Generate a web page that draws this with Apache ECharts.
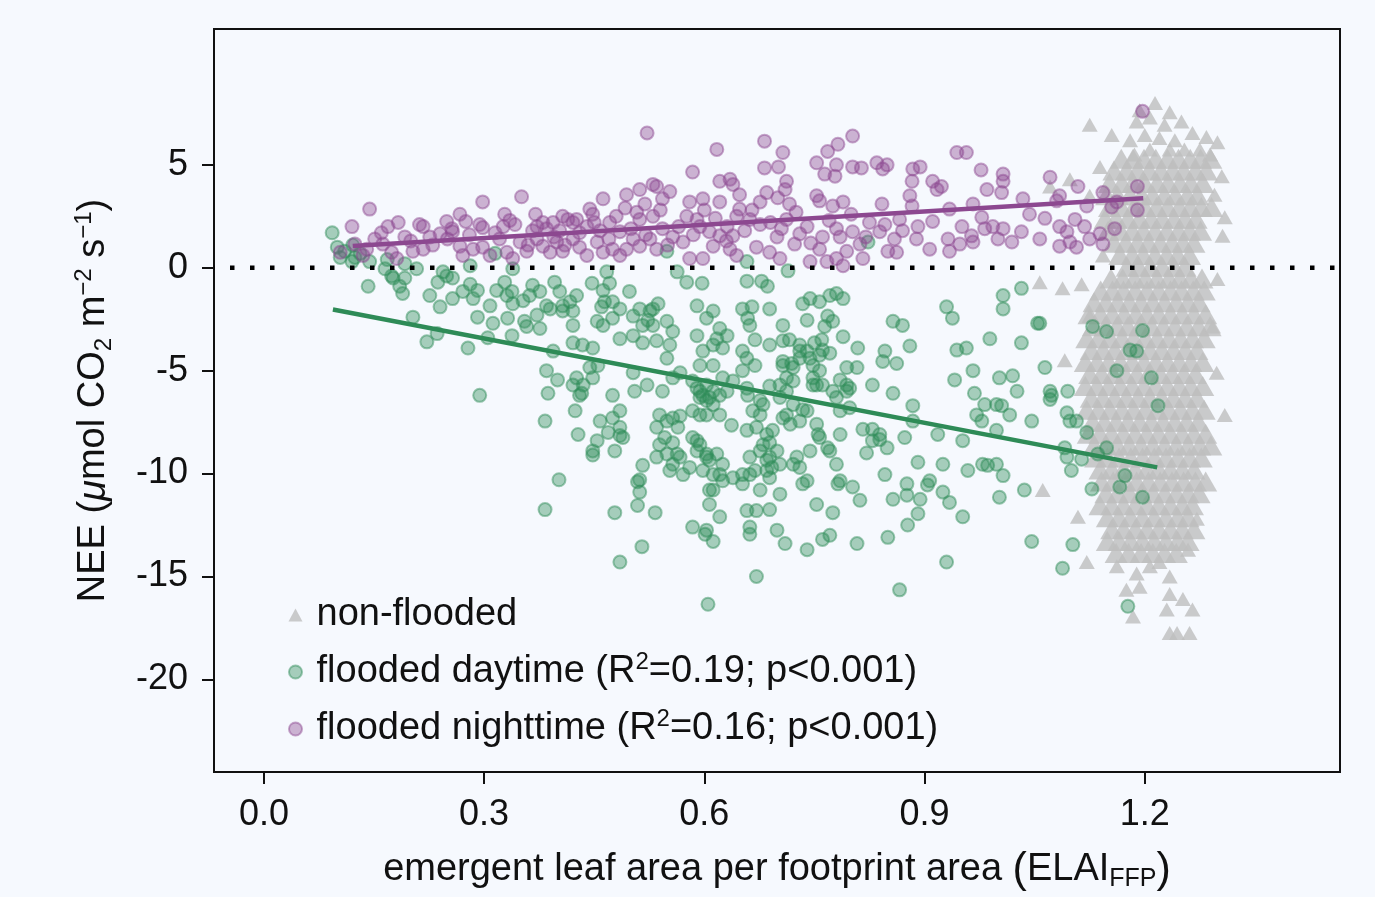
<!DOCTYPE html>
<html>
<head>
<meta charset="utf-8">
<title>NEE vs ELAI</title>
<script src="https://cdn.jsdelivr.net/npm/echarts@6.0.0/dist/echarts.min.js"></script>
<style>
  html, body { margin: 0; padding: 0; background: #f6f9fe; overflow: hidden; }
  #chart { width: 1375px; height: 897px; }
</style>
</head>
<body>
<div id="chart"></div>
<script>
// axis ticks
const xTicks = [0, 0.3, 0.6, 0.9, 1.2];
const yTicks = [-20, -15, -10, -5, 0, 5];

// flooded daytime [ELAI, NEE]
const floodedDay = [
  [0.093,1.7],[0.10,1.0],[0.104,0.5],[0.11,0.8],[0.124,0.5],[0.12,0.3],[0.131,0.7],[0.165,-0.05],[0.174,-0.4],[0.192,-0.5],[0.144,0.3],
  [0.121,1.1],[0.168,0.4],[0.192,0.2],[0.208,-0.05],[0.244,-0.2],[0.281,0.1],[0.315,0.7],[0.339,-0.05],[0.467,-0.2],[0.549,0.8],[0.563,-0.2],
  [0.658,0.3],[0.714,-0.15],[0.823,1.25],
  [0.142,-0.9],[0.176,-0.5],[0.185,-0.9],[0.189,-1.25],[0.203,-2.4],[0.222,-3.6],[0.236,-3.2],
  [0.226,-1.35],[0.240,-1.9],[0.237,-0.7],[0.249,-0.4],[0.257,-0.5],[0.257,-1.5],[0.271,-1.15],[0.281,-0.8],[0.285,-1.5],[0.291,-1.1],
  [0.291,-2.4],[0.312,-2.7],[0.308,-1.85],[0.278,-3.9],[0.294,-6.2],[0.305,-3.4],
  [0.317,-1.1],[0.328,-0.7],[0.338,-1.15],[0.339,-1.75],[0.332,-2.45],[0.338,-3.3],[0.353,-1.6],[0.355,-2.6],[0.358,-2.85],[0.376,-2.95],
  [0.366,-0.85],[0.376,-1.15],[0.390,-2.0],[0.396,-0.7],[0.403,-1.15],[0.407,-1.85],[0.417,-1.65],[0.421,-2.1],[0.426,-1.35],[0.421,-2.8],
  [0.394,-4.05],[0.385,-5.0],[0.400,-5.45],[0.387,-6.1],[0.383,-7.45],
  [0.421,-3.65],[0.434,-3.75],[0.448,-3.9],[0.444,-4.85],[0.426,-5.35],[0.433,-6.1],[0.424,-6.95],[0.428,-8.1],[0.421,-5.7],
  [0.447,-0.75],[0.462,-1.1],[0.471,-0.75],[0.464,-1.65],[0.485,-2.0],[0.498,-1.15],[0.475,-2.45],[0.462,-2.8],[0.454,-2.6],[0.485,-3.45],
  [0.503,-3.3],[0.512,-2.0],[0.516,-2.8],[0.530,-2.0],[0.537,-1.75],[0.523,-2.55],[0.535,-3.55],[0.549,-2.6],[0.557,-3.1],[0.553,-3.75],[0.549,-4.4],
  [0.448,-5.35],[0.455,-4.75],[0.475,-6.2],[0.485,-6.95],[0.475,-7.3],[0.458,-7.45],[0.454,-8.4],[0.448,-8.9],[0.478,-8.9],[0.489,-8.25],[0.485,-7.75],
  [0.503,-5.1],[0.505,-6.0],[0.522,-5.7],[0.543,-6.0],[0.557,-5.35],[0.567,-5.1],
  [0.539,-7.15],[0.535,-7.75],[0.549,-7.45],[0.557,-7.3],[0.564,-7.75],[0.539,-8.6],[0.549,-9.05],[0.557,-9.55],[0.567,-9.2],[0.571,-10.05],[0.553,-9.85],[0.535,-9.2],
  [0.516,-9.6],[0.509,-10.4],[0.512,-10.9],[0.509,-11.55],[0.533,-11.9],[0.478,-11.9],[0.402,-10.3],[0.383,-11.75],[0.515,-13.55],[0.485,-14.3],
  [0.584,-12.6],[0.601,-12.95],[0.612,-13.3],[0.605,-16.35],
  [0.584,-5.5],[0.594,-6.0],[0.603,-6.45],[0.584,-6.95],[0.594,-7.15],[0.590,-8.4],[0.590,-8.9],[0.603,-9.05],[0.598,-9.85],[0.612,-10.8],[0.607,-11.5],
  [0.590,-1.85],[0.603,-2.45],[0.590,-3.3],[0.612,-3.75],[0.594,-4.75],[0.612,-4.75],
  [0.597,-0.75],[0.612,-2.1],[0.621,-2.95],[0.631,-3.3],[0.617,-3.45],[0.625,-3.9],[0.598,-4.05],
  [0.658,-0.65],[0.678,-0.65],[0.686,-0.9],[0.652,-2.0],[0.665,-1.9],[0.659,-2.45],[0.662,-2.8],[0.689,-2.0],
  [0.669,-3.5],[0.652,-4.05],[0.658,-4.4],[0.669,-4.75],[0.689,-3.75],[0.707,-2.8],
  [0.734,-1.75],[0.744,-1.5],[0.757,-1.65],[0.771,-1.35],[0.780,-1.25],[0.789,-1.5],[0.740,-2.55],[0.768,-2.35],[0.775,-2.6],[0.764,-2.85],[0.789,-3.35],
  [0.707,-3.55],[0.716,-3.5],[0.730,-3.75],[0.740,-4.05],[0.750,-3.65],[0.760,-3.5],[0.771,-4.15],[0.730,-4.4],[0.744,-4.4],[0.757,-4.25],
  [0.707,-4.55],[0.721,-4.85],[0.712,-5.35],[0.748,-5.35],[0.761,-5.7],
  [0.603,-5.7],[0.625,-5.35],[0.639,-5.5],[0.594,-6.3],[0.607,-6.3],[0.621,-6.2],[0.631,-6.0],[0.603,-7.15],[0.621,-7.15],[0.637,-7.65],
  [0.652,-5.0],[0.658,-5.85],[0.659,-6.2],[0.689,-5.75],[0.680,-6.65],[0.666,-6.95],[0.676,-7.15],
  [0.721,-6.65],[0.734,-6.9],[0.730,-7.45],[0.703,-6.3],[0.712,-7.15],
  [0.753,-5.7],[0.775,-6.0],[0.780,-6.3],[0.794,-5.7],[0.794,-6.0],[0.785,-6.95],[0.798,-6.8],[0.808,-4.85],[0.794,-4.85],[0.829,-5.7],[0.857,-6.1],
  [0.594,-8.6],[0.603,-9.2],[0.617,-9.05],[0.625,-9.55],[0.621,-10.05],[0.625,-10.35],[0.607,-10.8],[0.603,-12.75],[0.621,-12.1],
  [0.658,-7.9],[0.671,-7.75],[0.685,-8.1],[0.693,-7.9],[0.680,-8.6],[0.676,-8.9],[0.689,-9.2],[0.699,-8.9],[0.685,-9.85],[0.689,-10.2],
  [0.662,-9.2],[0.662,-10.05],[0.652,-10.5],[0.676,-10.8],[0.703,-11.0],[0.658,-11.8],[0.671,-11.8],[0.689,-11.75],[0.662,-12.6],[0.662,-12.95],
  [0.726,-9.2],[0.730,-9.7],[0.740,-10.35],[0.734,-10.5],[0.744,-8.9],[0.753,-7.6],[0.757,-8.25],[0.771,-8.9],[0.780,-9.55],[0.753,-11.5],[0.775,-11.9],
  [0.699,-12.75],[0.710,-13.4],[0.740,-13.7],[0.761,-13.2],[0.771,-13.0],[0.808,-13.4],[0.671,-15.0],
  [0.785,-8.1],[0.816,-7.85],[0.821,-9.0],[0.829,-7.85],[0.839,-8.35],[0.849,-8.75],[0.829,-8.4],
  [0.782,-10.5],[0.802,-10.65],[0.812,-11.3],[0.846,-10.05],
  [0.880,-3.8],[0.862,-4.65],[0.846,-4.05],[0.843,-4.55],[0.857,-2.6],[0.870,-2.8],
  [0.884,-6.7],[0.884,-7.45],[0.873,-8.25],[0.891,-9.45],[0.918,-8.1],[0.952,-8.4],[0.925,-9.55],
  [0.857,-11.25],[0.876,-10.5],[0.876,-11.05],[0.894,-11.25],[0.904,-10.55],[0.925,-10.9],[0.934,-11.4],[0.952,-12.1],[0.891,-11.95],[0.877,-12.5],
  [0.850,-13.1],[0.866,-15.65],[0.930,-14.3],
  [0.930,-1.9],[0.938,-2.45],
  [0.941,-5.45],[0.944,-4.0],[0.957,-3.9],[0.966,-5.0],[0.968,-6.1],[0.989,-3.45],
  [0.971,-7.15],[0.978,-7.45],[0.982,-6.65],[0.998,-6.65],[1.005,-6.7],[1.016,-7.15],[0.998,-7.9],[0.979,-9.55],[0.986,-9.6],[0.998,-9.55],
  [1.007,-10.1],[0.959,-9.85],[1.002,-11.15],[1.036,-10.8],
  [1.002,-5.35],[1.020,-5.25],[1.026,-6.0],
  [1.007,-1.35],[1.007,-2.0],[1.032,-1.0],[1.054,-2.7],[1.032,-3.65],[1.064,-4.85],[1.046,-7.45],
  [1.071,-6.0],[1.071,-6.4],[1.095,-6.0],[1.094,-7.05],[1.098,-7.45],[1.107,-7.45],[1.121,-8.0],
  [1.091,-8.75],[1.094,-9.2],[1.100,-9.85],[1.128,-10.75],[1.148,-8.75],
  [1.046,-13.3],[1.102,-13.45],[1.088,-14.6],
  [1.129,-2.85],[1.148,-3.1],[1.162,-5.0],
  [1.197,-3.05],[1.180,-4.0],[1.189,-4.05],[1.209,-5.35],[1.218,-6.7],[1.073,-6.2],[1.114,-9.3],[1.136,-9.05],[1.173,-10.1],[1.166,-10.65],
  [1.197,-11.15],[1.177,-16.45],[1.057,-2.7],
  [0.331,-1.35],[0.362,-1.35],[0.372,-2.3],[0.385,-1.85],[0.407,-2.1],[0.460,-1.9],[0.475,-1.65],[0.503,-2.35],[0.526,-2.1],[0.530,-2.8],
  [0.516,-3.65],[0.576,-0.7],[0.435,-5.7],[0.430,-6.2],[0.469,-8.0],[0.485,-8.15],[0.448,-9.1],[0.567,-7.2],[0.546,-8.25],[0.557,-8.5],
  [0.563,-9.05],[0.512,-10.3],[0.584,-8.25],[0.607,-9.35],[0.580,-9.7],[0.612,-10.05],[0.612,-6.65],[0.598,-6.2],[0.612,-6.0],[0.590,-5.85],
  [0.676,-6.45],[0.689,-8.5],[0.685,-9.35],[0.703,-9.55],[0.707,-7.3],[0.717,-7.6],[0.740,-6.95],[0.755,-8.1],[0.768,-8.75],[0.839,-8.1],
  [0.639,-10.2],[0.652,-10.05],[0.669,-9.85],[0.692,-9.7],[0.721,-9.55],[0.785,-10.35],[0.907,-10.35],
  [0.730,-4.05],[0.761,-4.0],[0.719,-4.65],[0.748,-4.75],[0.757,-5.0],[0.707,-4.75],[0.703,-5.7],[0.721,-5.5],[0.712,-6.0],[0.748,-5.7],
  [0.785,-5.45],[0.798,-5.85],[0.809,-3.9]
];

// flooded nighttime [ELAI, NEE]
const floodedNight = [
  [0.120,2.0],[0.144,2.85],[0.169,2.0],[0.183,2.2],[0.212,2.1],[0.217,2.0],[0.249,2.25],[0.256,1.9],[0.275,2.25],[0.298,3.2],[0.298,1.95],
  [0.326,2.0],[0.351,3.45],[0.366,1.8],[0.380,2.2],[0.385,1.9],[0.407,2.5],[0.414,2.35],[0.426,2.35],[0.444,2.85],[0.448,2.6],[0.462,3.35],
  [0.494,3.55],[0.512,3.8],[0.530,4.05],[0.535,3.95],[0.553,3.7],[0.492,2.9],[0.508,2.7],[0.522,6.55],[0.584,4.65],[0.617,5.75],
  [0.621,4.2],[0.635,4.3],[0.639,4.05],[0.580,3.2],[0.598,3.35],[0.621,3.2],
  [0.104,0.75],[0.135,0.6],[0.162,1.15],[0.174,0.75],[0.181,0.45],[0.203,0.8],[0.217,0.9],[0.226,1.5],[0.240,1.65],[0.257,1.75],[0.267,1.05],
  [0.271,0.6],[0.285,0.9],[0.298,1.0],[0.308,0.6],[0.321,1.4],[0.331,0.75],[0.339,0.45],[0.349,1.25],[0.358,0.8],[0.372,1.4],[0.380,1.05],
  [0.390,0.75],[0.399,1.25],[0.407,0.8],[0.421,1.4],[0.430,1.0],[0.440,0.6],[0.454,1.25],[0.462,0.75],[0.475,0.9],[0.485,0.6],[0.494,0.9],
  [0.503,1.4],[0.512,1.05],[0.526,1.4],[0.535,0.9],[0.557,1.5],[0.571,1.25],[0.580,0.45],[0.598,0.45],[0.612,1.05],[0.621,1.55],[0.635,0.9],
  [0.639,1.55],[0.644,0.6],
  [0.372,2.0],[0.394,2.2],[0.421,2.2],[0.471,2.2],[0.512,2.35],[0.530,2.5],[0.543,1.9],[0.576,2.5],[0.590,2.35],[0.607,1.75],[0.631,2.0],
  [0.644,2.5],[0.485,1.75],[0.440,2.0],
  [0.682,6.15],[0.707,5.6],[0.682,4.85],[0.701,4.9],[0.712,4.2],[0.710,3.8],[0.685,3.65],[0.700,3.4],[0.768,5.65],[0.782,6.0],[0.802,6.4],
  [0.753,5.1],[0.780,5.0],[0.802,4.9],[0.814,4.85],[0.835,5.1],[0.843,4.8],[0.849,5.0],[0.764,4.55],[0.778,4.45],[0.753,3.5],[0.757,3.25],
  [0.775,3.0],[0.789,3.2],[0.842,3.1],[0.884,4.8],[0.894,4.9],[0.883,4.2],[0.911,4.2],[0.917,3.8],[0.923,3.95],[0.880,3.5],[0.883,3.0],
  [0.944,5.6],[0.957,5.6],[0.977,4.75],[1.007,4.55],[1.007,4.2],[1.005,3.65],[0.985,3.8],[1.034,3.35],[1.071,4.4],[1.109,3.95],[1.143,3.65],
  [1.084,3.5],[1.080,3.25],[0.934,2.85],[0.966,3.1],[0.978,2.45],[0.866,2.35],[0.891,2.0],[0.911,2.25],[0.889,1.4],[0.907,0.9],[0.932,1.4],
  [0.934,0.8],[0.951,2.0],[0.964,1.55],[0.966,1.25],[0.993,2.0],[1.007,1.9],[1.000,1.4],[1.019,1.25],[1.032,1.75],[1.064,2.4],[1.084,2.0],
  [1.094,1.75],[1.105,2.35],[1.118,2.0],[1.098,1.25],[1.107,1.0],[1.084,1.05],[1.139,1.65],[1.143,1.15],[1.155,2.95],[1.162,3.2],[0.862,0.75],
  [0.648,3.55],[0.676,3.2],[0.662,2.35],[0.648,2.85],[0.712,2.35],[0.740,2.0],[0.730,1.65],[0.699,1.5],[0.689,0.75],[0.703,0.45],[0.671,1.0],
  [0.744,0.3],[0.767,0.3],[0.757,0.9],[0.780,0.45],[0.789,0.1],[0.794,0.8],[0.802,1.75],[0.825,2.2],[0.839,1.75],[0.816,0.45],[0.780,1.9],
  [0.785,1.5],[0.761,1.5],
  [1.197,7.6],[1.190,3.95],[1.190,2.8],[1.121,3.0],
  [0.124,1.15],[0.151,1.4],[0.192,1.5],[0.294,2.1],[0.267,2.6],[0.328,2.6],[0.342,2.1],[0.403,1.8],[0.458,1.8],[0.519,3.1],[0.543,3.35],
  [0.594,2.0],[0.676,2.1],[0.716,3.1],[0.723,1.15],[0.812,1.15],[0.846,2.1],[0.859,1.4],[0.948,1.15],[0.982,1.9],[1.043,2.6],[1.057,1.4],
  [1.125,1.4],[1.159,1.9],
  [0.315,1.7],[0.335,2.3],[0.360,1.1],[0.370,2.6],[0.395,1.5],[0.410,1.1],[0.430,1.7],[0.450,2.2],[0.470,1.4],[0.480,2.5],[0.500,1.9],
  [0.520,1.6],[0.540,2.8],[0.550,1.1],[0.565,2.0],[0.585,1.6],[0.600,2.8],[0.615,2.4],[0.630,1.3],[0.655,1.8],[0.665,2.8],[0.690,2.2],
  [0.705,1.9],[0.725,2.7],[0.745,1.2],[0.770,2.3],[0.800,2.6],[0.820,1.5],[0.850,0.8],[0.870,1.8],[0.200,1.3],[0.230,1.1],[0.250,1.4],
  [0.280,1.6],[0.160,1.7],[0.140,0.9]
];

// non-flooded: dense core, one row per NEE level [NEE, [ELAI...]]
const nonFloodedRows = [
  [5.30, [1.168,1.184,1.199,1.215,1.231,1.246,1.262,1.276,1.290]],
  [4.72, [1.158,1.175,1.190,1.206,1.222,1.238,1.253,1.269,1.284]],
  [4.12, [1.152,1.169,1.184,1.200,1.217,1.232,1.248,1.263,1.279]],
  [3.52, [1.148,1.163,1.180,1.196,1.211,1.227,1.242,1.258,1.272]],
  [2.95, [1.152,1.168,1.185,1.200,1.216,1.231,1.247,1.262,1.277,1.291]],
  [2.38, [1.146,1.161,1.177,1.193,1.209,1.224,1.240,1.255,1.270]],
  [1.80, [1.150,1.167,1.183,1.198,1.214,1.230,1.246,1.261,1.276]],
  [1.22, [1.158,1.174,1.190,1.205,1.221,1.237,1.252,1.267]],
  [0.62, [1.166,1.183,1.198,1.214,1.230,1.245,1.261]],
  [0.05, [1.176,1.192,1.208,1.224,1.240,1.255]],
  [-0.52, [1.154,1.170,1.186,1.201,1.217,1.233,1.248,1.263,1.278]],
  [-1.10, [1.140,1.156,1.171,1.187,1.203,1.219,1.235,1.250,1.266,1.281]],
  [-1.68, [1.131,1.147,1.163,1.179,1.195,1.211,1.227,1.243,1.259,1.274]],
  [-2.26, [1.124,1.140,1.156,1.172,1.188,1.203,1.219,1.235,1.251,1.267,1.283]],
  [-2.84, [1.130,1.146,1.162,1.177,1.193,1.209,1.225,1.241,1.257,1.273,1.289]],
  [-3.42, [1.121,1.137,1.153,1.169,1.185,1.201,1.217,1.233,1.249,1.265,1.281]],
  [-4.00, [1.127,1.143,1.159,1.175,1.191,1.207,1.223,1.239,1.255,1.271]],
  [-4.58, [1.119,1.135,1.151,1.167,1.183,1.199,1.215,1.231,1.247,1.263,1.279]],
  [-5.16, [1.125,1.141,1.157,1.173,1.189,1.205,1.221,1.237,1.253,1.269]],
  [-5.74, [1.119,1.135,1.151,1.167,1.183,1.199,1.215,1.231,1.247,1.263,1.279]],
  [-6.32, [1.127,1.143,1.159,1.175,1.191,1.207,1.223,1.239,1.255,1.271]],
  [-6.90, [1.121,1.137,1.153,1.169,1.185,1.201,1.217,1.233,1.249,1.265,1.281]],
  [-7.48, [1.129,1.145,1.161,1.177,1.193,1.209,1.225,1.241,1.257,1.273]],
  [-8.06, [1.123,1.139,1.155,1.171,1.187,1.203,1.219,1.235,1.251,1.267,1.283]],
  [-8.64, [1.131,1.147,1.163,1.179,1.195,1.211,1.227,1.243,1.259,1.275,1.290]],
  [-9.22, [1.133,1.149,1.165,1.181,1.197,1.213,1.229,1.245,1.261,1.277]],
  [-9.80, [1.139,1.155,1.171,1.187,1.203,1.219,1.235,1.251,1.267]],
  [-10.38, [1.141,1.157,1.173,1.189,1.205,1.221,1.237,1.253,1.269,1.283]],
  [-10.96, [1.147,1.163,1.179,1.195,1.211,1.227,1.243,1.259,1.274]],
  [-11.54, [1.139,1.155,1.171,1.187,1.203,1.219,1.235,1.251,1.265]],
  [-12.12, [1.149,1.165,1.181,1.197,1.213,1.229,1.245,1.259]],
  [-12.70, [1.155,1.171,1.187,1.203,1.219,1.235,1.251,1.267]],
  [-13.28, [1.149,1.165,1.181,1.197,1.213,1.229,1.245,1.259]],
  [-13.86, [1.161,1.178,1.195,1.211,1.227,1.243]]
];

// non-flooded: scattered points around the core [ELAI, NEE]
const nonFloodedSparse = [
  [1.214,8.0],[1.234,7.55],[1.193,7.65],[1.250,7.1],[1.189,7.1],[1.125,6.95],[1.207,7.3],[1.227,6.95],[1.155,6.45],[1.265,6.55],
  [1.284,6.35],[1.299,6.1],[1.180,6.2],[1.200,6.45],[1.220,6.3],[1.241,6.2],[1.207,5.75],[1.234,5.75],[1.254,5.75],[1.275,5.75],
  [1.289,5.5],[1.186,5.5],[1.139,4.9],[1.098,4.3],[1.071,3.95],[1.125,3.5],[1.305,4.45],[1.295,3.55],[1.309,2.45],[1.306,1.55],
  [1.057,-0.7],[1.088,-1.0],[1.114,-0.8],[1.299,-0.55],[1.143,0.6],[1.125,-2.35],[1.293,-2.85],[1.298,-5.1],[1.309,-7.15],[1.091,-4.5],
  [1.061,-10.8],[1.109,-12.1],[1.121,-14.3],[1.189,-14.85],[1.175,-15.65],[1.184,-16.95],[1.234,-15.0],[1.234,-15.85],[1.252,-16.1],
  [1.265,-16.6],[1.230,-16.6],[1.234,-17.75],[1.244,-17.75],[1.261,-17.75],[1.162,-14.5],[1.193,-15.5],[1.207,-14.5],[1.220,-14.3],
  [1.259,-13.7],[1.271,-12.2]
];

// regression line end points, and the zero reference
const dayFit = [[0.094, -2.03], [1.217, -9.70]];
const nightFit = [[0.121, 1.06], [1.198, 3.38]];
const zeroLine = [[-0.068, 0], [1.466, 0]];

const nonFloodedCore = nonFloodedRows.flatMap(([y, xs]) => xs.map((x) => [x, y]));

const GREEN = '#2e8b57';
const PURPLE = '#8c4890';
const GREY = '#bebebe';
const FONT = '"Liberation Sans", Arial, sans-serif';

const legendLabels = {
  'non-flooded': '{a|non-flooded}',
  'flooded daytime': '{a|flooded daytime (R}{sup|2}{a|=0.19; p<0.001)}',
  'flooded nighttime': '{a|flooded nighttime (R}{sup|2}{a|=0.16; p<0.001)}',
};

const chart = echarts.init(document.getElementById('chart'));

const option = {
  animation: false,
  backgroundColor: '#f6f9fe',
  textStyle: { fontFamily: FONT },
  grid: {
    left: 214,
    width: 1126,
    top: 29,
    height: 748,
    show: true,
    borderColor: '#111',
    borderWidth: 2,
    backgroundColor: 'transparent',
  },
  legend: {
    orient: 'vertical',
    left: 283,
    top: 591,
    itemWidth: 14,
    itemHeight: 13,
    itemGap: 16,
    data: [
      { name: 'non-flooded', icon: 'triangle' },
      { name: 'flooded daytime', icon: 'circle' },
      { name: 'flooded nighttime', icon: 'circle' },
    ],
    formatter: (name) => legendLabels[name],
    textStyle: {
      color: '#111',
      fontFamily: FONT,
      padding: [0, 0, 0, 9],
      rich: {
        a: { fontSize: 38, lineHeight: 44, fontFamily: FONT, color: '#111' },
        sup: { fontSize: 24, lineHeight: 22, verticalAlign: 'top', fontFamily: FONT, color: '#111' },
      },
    },
  },
  xAxis: {
    type: 'value',
    min: -0.068,
    max: 1.466,
    splitLine: { show: false },
    axisLine: { show: false, onZero: false },
    axisTick: {
      show: true,
      customValues: xTicks,
      length: 12,
      lineStyle: { color: '#111', width: 2 },
    },
    axisLabel: {
      customValues: xTicks,
      formatter: (v) => v.toFixed(1),
      fontSize: 36,
      color: '#111',
      margin: 25,
      fontFamily: FONT,
    },
    name: '{a|emergent leaf area per footprint area }{p|(}{a|ELAI}{sub|FFP}{p|)}',
    nameLocation: 'middle',
    nameGap: 76,
    nameTextStyle: {
      color: '#111',
      rich: {
        a: { fontSize: 38, lineHeight: 44, fontFamily: FONT, color: '#111' },
        p: { fontSize: 43, lineHeight: 44, fontFamily: FONT, color: '#111' },
        sub: { fontSize: 25, lineHeight: 22, verticalAlign: 'bottom', fontFamily: FONT, color: '#111' },
      },
    },
  },
  yAxis: {
    type: 'value',
    min: -24.5,
    max: 11.6,
    splitLine: { show: false },
    axisLine: { show: false, onZero: false },
    axisTick: {
      show: true,
      customValues: yTicks,
      length: 12,
      lineStyle: { color: '#111', width: 2 },
    },
    axisLabel: {
      customValues: yTicks,
      fontSize: 36,
      color: '#111',
      margin: 26,
      fontFamily: FONT,
    },
    name: '{a|NEE (}{i|μ}{a|mol CO}{sub|2}{a| m}{sup|−2}{a| s}{sup|−1}{a|)}',
    nameLocation: 'middle',
    nameRotate: 90,
    nameGap: 98,
    nameTextStyle: {
      color: '#111',
      rich: {
        a: { fontSize: 38, lineHeight: 44, fontFamily: FONT, color: '#111' },
        i: { fontSize: 38, lineHeight: 44, fontStyle: 'italic', fontFamily: FONT, color: '#111' },
        sup: { fontSize: 24, lineHeight: 22, verticalAlign: 'top', fontFamily: FONT, color: '#111' },
        sub: { fontSize: 24, lineHeight: 22, verticalAlign: 'bottom', fontFamily: FONT, color: '#111' },
      },
    },
  },
  series: [
    {
      name: 'non-flooded',
      type: 'scatter',
      data: nonFloodedCore,
      symbol: 'triangle',
      symbolSize: [23, 20],
      itemStyle: { color: GREY },
      z: 2,
    },
    {
      name: 'non-flooded',
      type: 'scatter',
      data: nonFloodedSparse,
      symbol: 'triangle',
      symbolSize: [16, 14],
      itemStyle: { color: GREY },
      z: 2,
    },
    {
      name: 'flooded daytime',
      type: 'scatter',
      data: floodedDay,
      symbol: 'circle',
      symbolSize: 13,
      itemStyle: {
        color: 'rgba(46,139,87,0.5)',
        borderColor: 'rgba(46,139,87,0.6)',
        borderWidth: 2,
      },
      z: 3,
    },
    {
      name: 'flooded nighttime',
      type: 'scatter',
      data: floodedNight,
      symbol: 'circle',
      symbolSize: 13,
      itemStyle: {
        color: 'rgba(140,72,144,0.5)',
        borderColor: 'rgba(140,72,144,0.6)',
        borderWidth: 2,
      },
      z: 4,
    },
    {
      name: 'daytime fit',
      type: 'line',
      data: dayFit,
      symbol: 'none',
      lineStyle: { color: GREEN, width: 4.5 },
      silent: true,
      z: 5,
    },
    {
      name: 'nighttime fit',
      type: 'line',
      data: nightFit,
      symbol: 'none',
      lineStyle: { color: PURPLE, width: 4.5 },
      silent: true,
      z: 5,
    },
    {
      name: 'zero',
      type: 'line',
      data: zeroLine,
      symbol: 'none',
      lineStyle: { color: '#000', width: 4.5, type: [4.5, 15.5], dashOffset: -16, cap: 'butt' },
      silent: true,
      z: 6,
    },
  ],
};

chart.setOption(option);
window.addEventListener('resize', () => chart.resize());
</script>
</body>
</html>
